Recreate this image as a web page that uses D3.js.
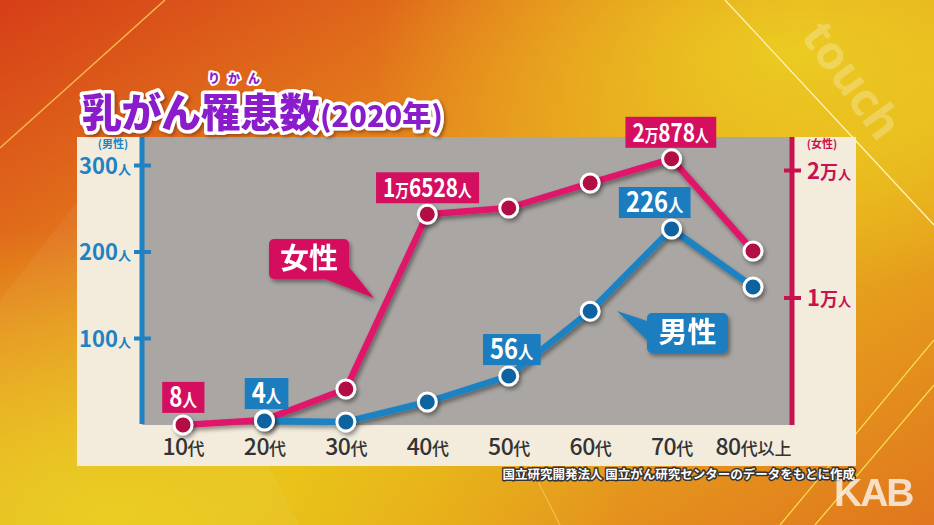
<!DOCTYPE html>
<html><head><meta charset="utf-8">
<script src="https://cdn.jsdelivr.net/npm/d3@7"></script>
<style>html,body{margin:0;padding:0;overflow:hidden;background:#e08a1e}svg{display:block}</style>
</head><body>
<script>
const categories = ["10代","20代","30代","40代","50代","60代","70代","80代以上"];
const maleValues = [null, 4, 3, 26, 56, 131, 226, 159];
const femaleValues = [8, 390, 2820, 16528, 17020, 18980, 20878, 13650];
const maleTicks = [100, 200, 300];
const femaleTicks = [10000, 20000];
const femaleLabels = [{i:0, parts:[["8",28],["人",18]]},{i:3, parts:[["1",26],["万",17],["6528",26],["人",17]]},{i:6, parts:[["2",26],["万",17],["878",26],["人",17]]}];
const maleLabels = [{i:1, parts:[["4",28],["人",18]]},{i:4, parts:[["56",28],["人",18]]},{i:6, parts:[["226",28],["人",18]]}];

const W=934,H=525;
const F='"Noto Sans CJK JP","Noto Sans",sans-serif';
const PINK='#e0176b', PINKBOX='#d50f5f', PINKDOT='#b20c45', PINKAX='#c8124f';
const BLUE='#1f82c2', BLUEBOX='#1b7dbf', BLUEDOT='#0f64a0';

const svg=d3.select('body').append('svg').attr('width',W).attr('height',H);
const defs=svg.append('defs');
const g1=defs.append('linearGradient').attr('id','bg1').attr('x1','0').attr('y1','0').attr('x2','1').attr('y2','1');
g1.append('stop').attr('offset','0').attr('stop-color','#d63e18');
g1.append('stop').attr('offset','0.35').attr('stop-color','#e5841c');
g1.append('stop').attr('offset','0.6').attr('stop-color','#e9b41c');
g1.append('stop').attr('offset','1').attr('stop-color','#e0761e');
const g2=defs.append('radialGradient').attr('id','bg2').attr('cx','0.12').attr('cy','0.98').attr('r','0.55');
g2.append('stop').attr('offset','0').attr('stop-color','#e9cb18').attr('stop-opacity',1);
g2.append('stop').attr('offset','1').attr('stop-color','#e9cb18').attr('stop-opacity',0);
const g3=defs.append('radialGradient').attr('id','bg3').attr('cx','0.85').attr('cy','0.1').attr('r','0.45');
g3.append('stop').attr('offset','0').attr('stop-color','#ebcb22').attr('stop-opacity',1);
g3.append('stop').attr('offset','1').attr('stop-color','#ebcb22').attr('stop-opacity',0);
const sh=defs.append('filter').attr('id','shadow').attr('x','-50%').attr('y','-50%').attr('width','200%').attr('height','200%');
sh.append('feDropShadow').attr('dx',2).attr('dy',3).attr('stdDeviation',2).attr('flood-color','#000').attr('flood-opacity',0.4);
const sh2=defs.append('filter').attr('id','tshadow').attr('x','-10%').attr('y','-30%').attr('width','120%').attr('height','160%');
sh2.append('feDropShadow').attr('dx',2).attr('dy',2).attr('stdDeviation',1.5).attr('flood-color','#5a2a10').attr('flood-opacity',0.5);

svg.append('rect').attr('width',W).attr('height',H).attr('fill','url(#bg1)');
svg.append('rect').attr('width',W).attr('height',H).attr('fill','url(#bg2)');
svg.append('rect').attr('width',W).attr('height',H).attr('fill','url(#bg3)');
const deco=svg.append('g').attr('fill','none');
deco.append('line').attr('x1',165).attr('y1',0).attr('x2',0).attr('y2',148).attr('stroke','#f5b84a').attr('stroke-width',1.5);
deco.append('line').attr('x1',725).attr('y1',0).attr('x2',934).attr('y2',225).attr('stroke','#fff6c0').attr('stroke-width',1.2);
deco.append('line').attr('x1',934).attr('y1',340).attr('x2',780).attr('y2',525).attr('stroke','#f7e04a').attr('stroke-width',1.2);
deco.append('line').attr('x1',934).attr('y1',385).attr('x2',815).attr('y2',525).attr('stroke','#f7e04a').attr('stroke-width',1.2);
deco.append('line').attr('x1',530).attr('y1',466).attr('x2',560).attr('y2',525).attr('stroke','#f3c860').attr('stroke-width',1);
deco.append('path').attr('d','M110,160 L0,300 L0,525 L300,525 Z').attr('fill','#ffffff').attr('opacity',0.05);

svg.append('text').attr('transform','translate(800,36) rotate(54)').attr('font-family','"Open Sans",sans-serif').attr('font-size',46).attr('font-weight',700)
  .attr('fill','#fff').attr('opacity',0.25).text('touch');

const panel={x:77,y:137,w:779,h:329};
svg.append('rect').attr('x',panel.x).attr('y',panel.y).attr('width',panel.w).attr('height',panel.h).attr('fill','#f3ecdd');
const plot={x0:142,x1:792,y0:137,y1:425};
svg.append('rect').attr('x',plot.x0).attr('y',plot.y0).attr('width',plot.x1-plot.x0).attr('height',plot.y1-plot.y0).attr('fill','#a9a6a3');

const x=d3.scalePoint().domain(categories).range([183,753]);
const yM=d3.scaleLinear().domain([0,300]).range([424.5,165]);
const yF=d3.scaleLinear().domain([0,20000]).range([425,170]);

const axL=svg.append('g').attr('transform',`translate(${plot.x0},0)`)
  .call(d3.axisLeft(yM).tickValues(maleTicks).tickSize(0).tickFormat(''));
axL.select('.domain').remove();
axL.append('line').attr('x1',0).attr('x2',0).attr('y1',plot.y0).attr('y2',plot.y1-1).attr('stroke',BLUE).attr('stroke-width',5);
axL.selectAll('.tick').each(function(d){
  const t=d3.select(this);
  t.append('line').attr('x1',-8).attr('x2',9).attr('stroke',BLUE).attr('stroke-width',4);
  const tx=t.append('text').attr('x',-11).attr('y',8).attr('text-anchor','end').attr('fill',BLUE).attr('font-family',F).attr('font-weight',700);
  tx.append('tspan').attr('font-size',22).text(d);
  tx.append('tspan').attr('font-size',13).text('人');
});
svg.append('text').attr('x',113).attr('y',148).attr('text-anchor','middle').attr('fill',BLUE).attr('font-family',F).attr('font-weight',700).attr('font-size',11).text('(男性)');

const axR=svg.append('g').attr('transform',`translate(${plot.x1},0)`)
  .call(d3.axisRight(yF).tickValues(femaleTicks).tickSize(0).tickFormat(''));
axR.select('.domain').remove();
axR.append('line').attr('x1',0).attr('x2',0).attr('y1',plot.y0).attr('y2',plot.y1).attr('stroke',PINKAX).attr('stroke-width',5);
axR.selectAll('.tick').each(function(d){
  const t=d3.select(this);
  t.append('line').attr('x1',-8).attr('x2',9).attr('stroke',PINKAX).attr('stroke-width',4);
  const tx=t.append('text').attr('x',15).attr('y',8).attr('fill',PINKAX).attr('font-family',F).attr('font-weight',700);
  tx.append('tspan').attr('font-size',22).text(d/10000);
  tx.append('tspan').attr('font-size',18).text('万');
  tx.append('tspan').attr('font-size',13).text('人');
});
svg.append('text').attr('x',822).attr('y',148).attr('text-anchor','middle').attr('fill',PINKAX).attr('font-family',F).attr('font-weight',700).attr('font-size',11).text('(女性)');

const axB=svg.append('g').attr('transform',`translate(0,${plot.y1})`).call(d3.axisBottom(x).tickSize(0).tickFormat(''));
axB.select('.domain').remove();
axB.selectAll('.tick').each(function(d){
  const t=d3.select(this);
  const m=d.match(/^(\d+)(.*)$/);
  const tx=t.append('text').attr('y',30).attr('text-anchor','middle').attr('fill','#333').attr('font-family',F).attr('font-weight',500);
  tx.append('tspan').attr('font-size',23).attr('letter-spacing',-0.5).text(m[1]);
  tx.append('tspan').attr('font-size',17).text(m[2]);
});

function callout(bx,by,bw,bh,tip,base,fill,txt){
  const g=svg.append('g').attr('filter','url(#shadow)');
  g.append('path').attr('d',`M${base[0][0]},${base[0][1]} L${tip[0]},${tip[1]} L${base[1][0]},${base[1][1]} Z`).attr('fill',fill);
  g.append('rect').attr('x',bx).attr('y',by).attr('width',bw).attr('height',bh).attr('rx',5).attr('fill',fill);
  g.append('text').attr('x',bx+bw/2).attr('y',by+bh/2).attr('dy','0.36em').attr('text-anchor','middle').attr('fill','#fff')
    .attr('font-family',F).attr('font-weight',700).attr('font-size',29).text(txt);
}

const lineF=d3.line().x((d,i)=>x(categories[i])).y(d=>yF(d));
const lineM=d3.line().defined(d=>d!=null).x((d,i)=>x(categories[i])).y(d=>yM(d));
svg.append('path').datum(femaleValues).attr('d',lineF).attr('fill','none').attr('stroke',PINK).attr('stroke-width',6.5).attr('stroke-linejoin','round').attr('filter','url(#shadow)');
svg.append('path').datum(maleValues).attr('d',lineM).attr('fill','none').attr('stroke',BLUE).attr('stroke-width',6.5).attr('stroke-linejoin','round').attr('filter','url(#shadow)');

callout(269,239,80,40,[374,298],[[320,277],[345,262]],PINKBOX,'女性');
callout(647,313,81,40,[617,311],[[650,322],[650,343]],BLUEBOX,'男性');

svg.append('g').selectAll('circle').data(femaleValues).join('circle')
  .attr('cx',(d,i)=>x(categories[i])).attr('cy',d=>yF(d)).attr('r',9).attr('fill',PINKDOT).attr('stroke','#fff').attr('stroke-width',3).attr('filter','url(#shadow)');
svg.append('g').selectAll('circle').data(maleValues.map((v,i)=>({v,i})).filter(d=>d.v!=null)).join('circle')
  .attr('cx',d=>x(categories[d.i])).attr('cy',d=>yM(d.v)).attr('r',9).attr('fill',BLUEDOT).attr('stroke','#fff').attr('stroke-width',3).attr('filter','url(#shadow)');

function valueLabel(cx,cyBottom,parts,fill,sx){
  const g=svg.append('g').attr('transform',`translate(${cx},${cyBottom}) scale(${sx},1)`);
  const r=g.append('rect').attr('fill',fill);
  const tx=g.append('text').attr('x',0).attr('y',-6).attr('text-anchor','middle').attr('fill','#fff').attr('font-family',F).attr('font-weight',700);
  parts.forEach(p=>tx.append('tspan').attr('font-size',p[1]).text(p[0]));
  const bb=tx.node().getBBox();
  const padX=7/sx;
  r.attr('x',bb.x-padX).attr('y',-31).attr('width',bb.width+padX*2).attr('height',31);
}
femaleLabels.forEach(l=>{
  valueLabel(x(categories[l.i])+(l.i===6?-1:0), yF(femaleValues[l.i])-(l.i===0?12:11), l.parts, PINKBOX, 0.8);
});
maleLabels.forEach(l=>{
  const dx = l.i===6?-17:(l.i===1?2:3);
  valueLabel(x(categories[l.i])+dx, yM(maleValues[l.i])-(l.i===1?12:11), l.parts, BLUEBOX, 0.85);
});

const ruby=svg.append('text').attr('x',208).attr('y',83).attr('font-family',F).attr('font-weight',900).attr('font-size',12).attr('letter-spacing',8)
  .attr('fill','#8a1fcc').attr('stroke','#fff').attr('stroke-width',4).attr('stroke-linejoin','round').attr('paint-order','stroke').text('りかん');
const title=svg.append('text').attr('x',82).attr('y',127).attr('font-family',F).attr('font-weight',900).attr('fill','#8a1fcc')
  .attr('stroke','#fff').attr('stroke-width',7).attr('stroke-linejoin','round').attr('paint-order','stroke').attr('filter','url(#tshadow)');
title.append('tspan').attr('font-size',40).attr('letter-spacing',-0.5).text('乳がん罹患数');
title.append('tspan').attr('font-size',29).attr('dx',1).attr('letter-spacing',0).text('(2020年)');

svg.append('text').attr('x',855).attr('y',479).attr('text-anchor','end').attr('font-family',F).attr('font-weight',700).attr('font-size',12.5)
  .attr('fill','#fff').attr('stroke','#333').attr('stroke-width',3).attr('stroke-linejoin','round').attr('paint-order','stroke')
  .text('国立研究開発法人 国立がん研究センターのデータをもとに作成');
svg.append('text').attr('x',834).attr('y',506).attr('font-family','"Liberation Sans",Arial,sans-serif').attr('font-weight',700).attr('font-size',39)
  .attr('fill','#fff').attr('opacity',0.75).attr('letter-spacing',-2).text('KAB');
</script>
</body></html>
